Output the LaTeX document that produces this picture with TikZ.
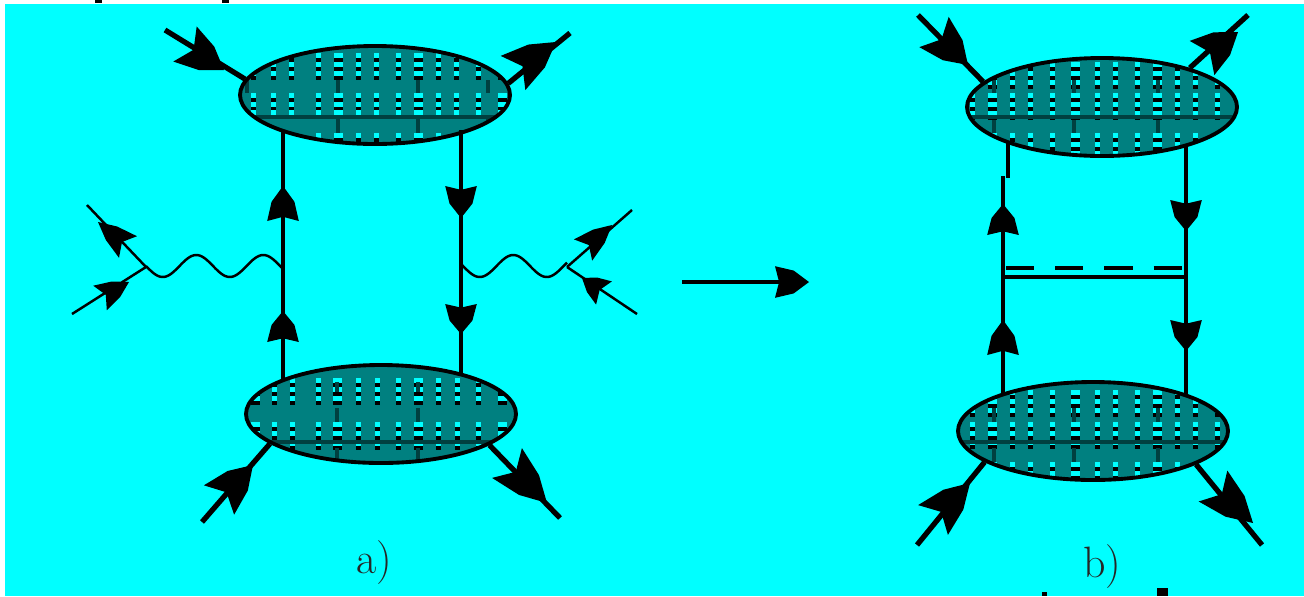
\documentclass[tikz,border=0pt]{standalone}
\usepackage{xcolor}
\usetikzlibrary{calc,shapes.geometric}
\definecolor{bgcyan}{RGB}{0,255,255}
\definecolor{blobteal}{RGB}{0,128,128}
\definecolor{blobdark}{RGB}{0,64,64}
\tikzset{
  % #1 columns x/width, #2 rows of dashes, #3 y of dark line, #4 dark columns, #5 spans of dark columns
  blob/.style n args={5}{ellipse, draw=black, line width=2.2pt, fill=blobteal, inner sep=0pt,
    minimum width=270*0.02cm, minimum height=98*0.02cm,
    path picture={
      \begin{scope}[shift={(path picture bounding box.center)}]
        \foreach \cx/\cw in {#1} {
          \foreach \ry in {#2} {
            \fill[bgcyan] (\cx-\cw/2,\ry) rectangle ++(\cw,4.5);
            \fill[black] (\cx-\cw/2,\ry+4.5) rectangle ++(\cw,4.5);
          }
        }
        \fill[blobdark] (-140,#3-2) rectangle ++(280,4);
        \foreach \cx in {#4} {
          \foreach \sa/\sb in {#5} {
            \fill[blobdark] (\cx-2,\sa) rectangle (\cx+2,\sb);
          }
        }
      \end{scope}
    }},
  line/.style={line width=2.2pt},
  leg/.style={line width=3pt},
  photon/.style={line width=1.4pt},
  thinleg/.style={line width=1.4pt},
  lbl/.style={font=\fontsize{25}{25}\selectfont, text=black!85},
}
% head from base to tip: half width #3, notch at fraction #4, shoulder half width #5
\newcommand{\headat}[5]{\coordinate (hm) at ($#1!0.55!#2$);
  \fill #2 -- ($(hm)!#5!90:#2$) -- ($#1!#3!90:#2$) -- ($#1!#4!#2$) -- ($#1!#3!-90:#2$) -- ($(hm)!#5!-90:#2$) -- cycle;}
\newcommand{\bighead}[2]{\headat{#1}{#2}{12pt}{0.22}{8pt}}
\newcommand{\midhead}[2]{\headat{#1}{#2}{9pt}{0.12}{6.5pt}}
\newcommand{\smallhead}[2]{\headat{#1}{#2}{8pt}{0.2}{5pt}}
\begin{document}
\begin{tikzpicture}[x=0.02cm, y=-0.02cm, >=stealth]
  \useasboundingbox (0,0) rectangle (1304,596);
  \fill[bgcyan] (5,4) rectangle (1304,596);

  % Diagram a)
  \node[blob={-122/5,-102/5,-84/5,-57/5,-37/9,-17/5,1/5,23/5,43/9,63/5,81/5,103/5,127/9}{-42,-33,-24,-2,7,15,38}{22}{-37,43,-128,113}{-15/-2,23/38}] (atop) at (375,95) {};
  \node[blob={-126/9,-107/5,-89/5,-63/5,-44/9,-23/5,-4/5,17/5,37/9,57/5,76/5,97/5,121/9}{-36,-27,-18,8,17,27}{28}{-44,37}{-32/-22,-6/8,34/48}] (abot) at (381,414) {};

  \coordinate (aul) at (283,130);
  \coordinate (all) at (283,380);
  \coordinate (aur) at (461,130);
  \coordinate (alr) at (461,374);
  \draw[line] (aul) -- (all);
  \draw[line] (aur) -- (alr);
  \midhead{(283,221)}{(283,186)}
  \midhead{(283,342)}{(283,311)}
  \midhead{(461,186)}{(461,218)}
  \midhead{(461,304)}{(461,334)}

  % external legs a)
  \coordinate (ainA) at (165,30);
  \coordinate (aoutA) at (570,33);
  \coordinate (ainB) at (202,522);
  \coordinate (aoutB) at (560,518);
  \draw[leg] (ainA) -- (atop.173);
  \draw[leg] (aoutA) -- (atop.5);
  \draw[leg] (ainB) -- (abot.195);
  \draw[leg] (aoutB) -- (abot.344);
  \bighead{(185,44)}{(224,70)}
  \bighead{(513,73)}{(556,42)}
  \bighead{(219,500)}{(253,465)}
  \bighead{(507,463)}{(547,503)}

  % photons a)
  \coordinate (avl) at (146,267);
  \coordinate (avr) at (567,267);
  \draw[photon] plot[domain=146:283, samples=70, smooth] (\x,{266+11*sin((\x-146)*5.37)});
  \draw[photon] plot[domain=461:567, samples=60, smooth] (\x,{266+11*sin((\x-463)*5.37)});
  \coordinate (apA) at (87,205);
  \coordinate (apB) at (72,314);
  \coordinate (apC) at (632,210);
  \coordinate (apD) at (637,314);
  \draw[thinleg] (apA) -- (avl);
  \draw[thinleg] (apB) -- (avl);
  \draw[thinleg] (apC) -- (avr);
  \draw[thinleg] (apD) -- (avr);
  \smallhead{(128,247)}{(98,222)}
  \smallhead{(100,298)}{(129,282)}
  \smallhead{(583,250)}{(612,225)}
  \smallhead{(604,293)}{(582,278)}

  % long arrow
  \coordinate (arrA) at (682,282);
  \coordinate (arrB) at (790,282);
  \draw[line width=1.8pt] (arrA) -- (arrB);
  \midhead{(775,282)}{(809,282)}

  % Diagram b)
  \node[blob={-130/5,-110/9,-90/5,-72/5,-50/5,-27/9,-5/5,13/5,35/5,55/9,75/5,93/5,115/5}{-45,-36,-27,-14,-5,4,26,35,44}{10}{-108,-28,56}{-27/-14,13/26}] (btop) at (1102,107) {};
  \node[blob={-121/5,-101/9,-81/5,-63/5,-41/5,-18/9,4/5,22/5,44/5,64/9,84/5,102/5,124/5}{-41,-32,-23,-9,0,9,31,40}{11}{-99,-19,65}{-23/-9,17/31}] (bbot) at (1093,431) {};

  \coordinate (bul) at (1008,143);
  \coordinate (bum) at (1008,178);
  \coordinate (bml) at (1003,176);
  \coordinate (bll) at (1003,395);
  \coordinate (bur) at (1186,146);
  \coordinate (blr) at (1186,395);
  \draw[line] (bul) -- (bum);
  \draw[line] (bml) -- (bll);
  \draw[line] (bur) -- (blr);
  \midhead{(1003,235)}{(1003,204)}
  \midhead{(1003,355)}{(1003,320)}
  \midhead{(1186,200)}{(1186,231)}
  \midhead{(1186,320)}{(1186,351)}

  % double line
  \coordinate (dashA) at (1006,268);
  \coordinate (dashB) at (1185,268);
  \coordinate (solA) at (1003,277);
  \coordinate (solB) at (1186,277);
  \draw[line width=2.6pt, dash pattern=on 16pt off 12pt] (dashA) -- (dashB);
  \draw[line width=2.6pt] (solA) -- (solB);

  % external legs b)
  \coordinate (binA) at (918,15);
  \coordinate (boutA) at (1248,15);
  \coordinate (binB) at (917,545);
  \coordinate (boutB) at (1262,545);
  \draw[leg] (binA) -- (btop.168);
  \draw[leg] (boutA) -- (btop.24);
  \draw[leg] (binB) -- (bbot.196);
  \draw[leg] (boutB) -- (bbot.342);
  \bighead{(934,32)}{(968,65)}
  \bighead{(1202,58)}{(1238,32)}
  \bighead{(933,520)}{(970,483)}
  \bighead{(1213,486)}{(1253,523)}

  % labels
  \node[lbl] (lblA) at (374,563) {a)};
  \node[lbl] (lblB) at (1102,567) {b)};

  % scraps of cut-off text at the edges
  \fill (95,0) rectangle (102,3);
  \fill (222,0) rectangle (229,3);
  \fill (1042,592) rectangle (1047,596);
  \fill (1157,588) rectangle (1168,596);
\end{tikzpicture}
\end{document}
